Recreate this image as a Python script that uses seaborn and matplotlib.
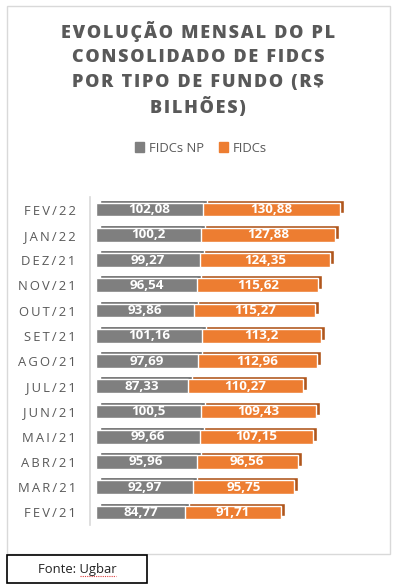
import matplotlib
matplotlib.use('Agg')
import seaborn as sns
import pandas as pd
import matplotlib.pyplot as plt
from matplotlib.patches import Rectangle, Patch
from matplotlib.transforms import ScaledTranslation

meses = ["FEV/22", "JAN/22", "DEZ/21", "NOV/21", "OUT/21", "SET/21", "AGO/21",
         "JUL/21", "JUN/21", "MAI/21", "ABR/21", "MAR/21", "FEV/21"]
fidcs_np = [102.08, 100.2, 99.27, 96.54, 93.86, 101.16, 97.69,
            87.33, 100.5, 99.66, 95.96, 92.97, 84.77]
fidcs = [130.88, 127.88, 124.35, 115.62, 115.27, 113.2, 112.96,
         110.27, 109.43, 107.15, 96.56, 95.75, 91.71]

titulo = ["EVOLUÇÃO MENSAL DO PL", "CONSOLIDADO DE FIDCS",
          "POR TIPO DE FUNDO (R$", "BILHÕES)"]

sns.set_style("white")
plt.rcParams['font.family'] = ['Open Sans', 'DejaVu Sans']

df = pd.DataFrame({"mes": meses, "np": fidcs_np, "fidc": fidcs})
df["total"] = df["np"] + df["fidc"]

HAIR = "\u200a"
SEXTO = "\u2006"
def espaco(s, sep=HAIR):
    return sep.join(s)

def fmt(v):
    s = f"{v:.2f}".rstrip("0").rstrip(".")
    return s.replace(".", ",")

W, H = 396, 588
fig = plt.figure(figsize=(W / 100, H / 100), dpi=100)
ax = fig.add_axes([96 / W, 1 - 525 / H, (380 - 96) / W, (525 - 197) / H])

cinza, cinza_esc = "#7f7f7f", "#5e5e5e"
laranja, laranja_esc = "#ed7d31", "#b0561c"
larg = 0.54

# faces 3D (copias deslocadas)
sombra = ax.transData + ScaledTranslation(4 / 100, 3 / 100, fig.dpi_scale_trans)
sns.barplot(data=df, x="total", y="mes", orient="h", color=laranja_esc,
            saturation=1, width=larg, ax=ax)
sns.barplot(data=df, x="np", y="mes", orient="h", color=cinza_esc,
            saturation=1, width=larg, ax=ax)
for c in ax.containers[:2]:
    for p in c:
        p.set_transform(sombra)
        p.set_clip_on(False)

sns.barplot(data=df, x="total", y="mes", orient="h", color=laranja,
            saturation=1, width=larg, ax=ax)
c_fidc = ax.containers[-1]
sns.barplot(data=df, x="np", y="mes", orient="h", color=cinza,
            saturation=1, width=larg, ax=ax)
c_np = ax.containers[-1]

# rotulos: centro de cada segmento
for i, p in enumerate(c_fidc):
    y = p.get_y() + p.get_height() / 2
    ax.text(df["np"][i] + df["fidc"][i] / 2, y, fmt(df["fidc"][i]), ha="center",
            va="center", color="white", fontsize=9.6, fontweight="bold")
ax.bar_label(c_np, labels=[fmt(v) for v in df["np"]], label_type="center",
             color="white", fontsize=9.6, fontweight="bold")

ax.set_xlim(0, 271)
ax.set_xlabel("")
ax.set_ylabel("")
ax.xaxis.set_visible(False)
for s in ["top", "right", "bottom"]:
    ax.spines[s].set_visible(False)
ax.spines["left"].set_position(("outward", 4))
ax.spines["left"].set_color("#d9d9d9")
ax.spines["left"].set_linewidth(1.2)
ax.set_yticks(range(len(meses)))
ax.set_yticklabels([espaco(m, SEXTO) for m in meses], fontsize=9.4, color="#595959")
ax.tick_params(axis="y", length=0, pad=10.5)

# titulo
for k, linha in enumerate(titulo):
    fig.text(198 / W, 1 - (32 + 25 * k) / H, espaco(linha), ha="center",
             va="center", fontsize=13, fontweight=800, color="#595959")

# legenda
handles = [Patch(color=cinza), Patch(color=laranja)]
fig.legend(handles, ["FIDCs NP", "FIDCs"], loc="center",
           bbox_to_anchor=(201 / W, 1 - 148 / H), ncol=2, frameon=False,
           fontsize=9.4, labelcolor="#595959", handlelength=0.7,
           handleheight=0.7, handletextpad=0.4, columnspacing=1.1)

# moldura e fonte
fig.add_artist(Rectangle((7 / W, 1 - 554 / H), 383 / W, 548 / H,
                         transform=fig.transFigure, fill=False,
                         ec="#d9d9d9", lw=1))
fig.add_artist(Rectangle((7 / W, 1 - 583 / H), 140 / W, 28 / H,
                         transform=fig.transFigure, fill=False,
                         ec="black", lw=1.2))
fig.text(77 / W, 1 - 569 / H, "Fonte: Ugbar", ha="center", va="center",
         fontsize=9.4, color="#222222")
fig.add_artist(plt.Line2D([80 / W, 116 / W], [1 - 576 / H, 1 - 576 / H],
                          transform=fig.transFigure, color="#e04040",
                          lw=0.8, ls=(0, (1, 1))))

plt.savefig("out.png", dpi=100)
